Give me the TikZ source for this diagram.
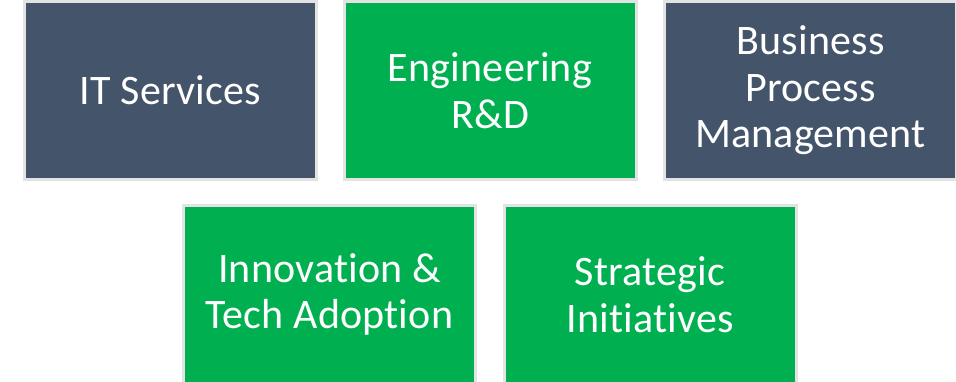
\documentclass[tikz,border=0pt]{standalone}
\usepackage{fontspec}
\setmainfont[RawFeature=-liga, LetterSpace=0.5]{Carlito}
\definecolor{slate}{HTML}{44546A}
\definecolor{leaf}{HTML}{00B050}
\definecolor{rim}{HTML}{E3E3E3}
\tikzset{
	area/.style={draw=rim, line width=3pt, text=white, align=center,
		minimum width=292pt, minimum height=178pt, inner sep=0pt,
		font=\fontsize{42}{46.5}\selectfont},
	dark/.style={area, fill=slate},
	green/.style={area, fill=leaf}
}
\begin{document}
\begin{tikzpicture}[x=1pt, y=-1pt]
	\useasboundingbox (0,0) rectangle (956,381);
	\node[dark] (it) at (170.5,90.5) {IT Services};
	\node[green] (eng) at (490,90.5) {Engineering\\R\&D};
	\node[dark] (bpm) at (810.5,90.5) {Business\\Process\\Management};
	\node[green] (inno) at (329.5,294.5) {Innovation \&\\Tech Adoption};
	\node[green] (strat) at (650,294.5) {Strategic\\Initiatives};
\end{tikzpicture}
\end{document}
